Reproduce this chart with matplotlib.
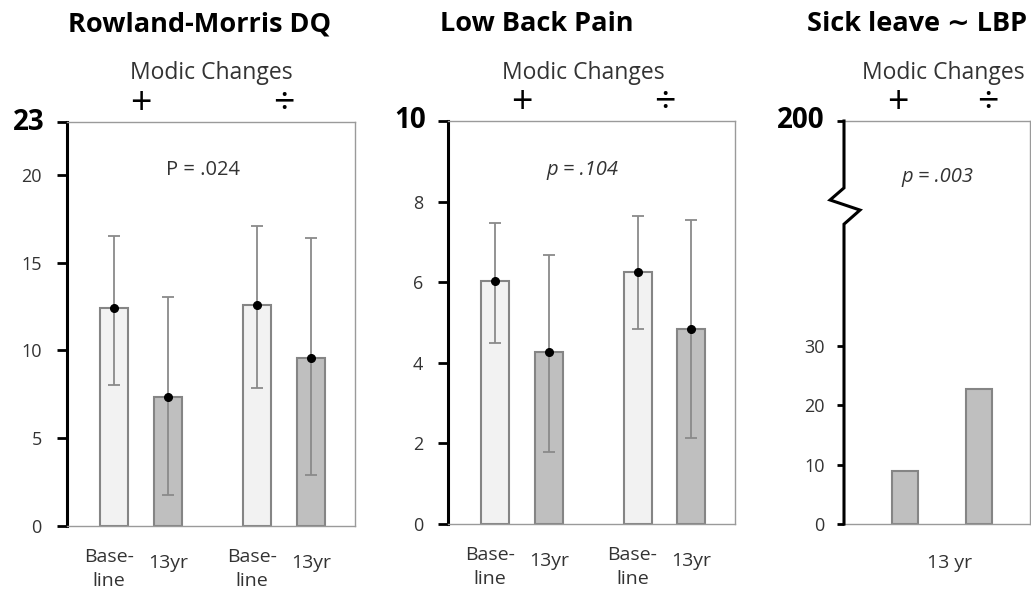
import matplotlib
matplotlib.use('Agg')
import matplotlib.pyplot as plt

plt.rcParams['font.family'] = ['Open Sans', 'DejaVu Sans']

# ---- data ----
# Rowland-Morris DQ (Modic + baseline, Modic + 13yr, Modic - baseline, Modic - 13yr)
rm_mean = [12.4, 7.35, 12.6, 9.55]
rm_low = [8.0, 1.75, 7.85, 2.9]
rm_high = [16.5, 13.05, 17.1, 16.4]

# Low back pain
lbp_mean = [6.03, 4.27, 6.26, 4.83]
lbp_low = [4.49, 1.79, 4.84, 2.13]
lbp_high = [7.47, 6.67, 7.64, 7.54]

# Sick leave ~ LBP at 13 yr (Modic +, Modic -)
sick_mean = [8.9, 22.8]

rm_ticks = [0, 5, 10, 15, 20]
rm_top = 23
lbp_ticks = [0, 2, 4, 6, 8]
lbp_top = 10
sick_ticks = [0, 10, 20, 30]
sick_top_label = '200'

bar_labels = ['Base-\nline', '13yr', 'Base-\nline', '13yr']
titles = ['Rowland-Morris DQ', 'Low Back Pain', 'Sick leave \u223c LBP']
pvals = ['P = .024', 'p = .104', 'p = .003']

W, H = 1031, 596
fig = plt.figure(figsize=(W / 100, H / 100), dpi=100)


def box(l, r, t, b):
    return [l / W, 1 - b / H, (r - l) / W, (b - t) / H]


light = '#f2f2f2'
dark = '#bfbfbf'
edge = '#858585'
errc = '#8a8a8a'
txt = '#333333'


def style_axes(ax, ticklen=7):
    for s in ['top', 'right', 'bottom']:
        ax.spines[s].set_color('#9a9a9a')
        ax.spines[s].set_linewidth(1.0)
    ax.spines['left'].set_color('black')
    ax.spines['left'].set_linewidth(2.2)
    ax.tick_params(axis='y', direction='out', length=ticklen, width=2,
                   color='black', labelsize=13, pad=11, labelcolor=txt)
    ax.tick_params(axis='x', length=0, labelbottom=False)


def top_label(ax, y, text, dx=-16):
    ax.annotate(text, xy=(0, y), xycoords=ax.get_yaxis_transform(),
                xytext=(dx, 0), textcoords='offset points',
                ha='right', va='center', fontsize=20, fontweight='bold')


def sign(ax, x, s):
    ax.text(x, 1.045, s, transform=ax.get_xaxis_transform(), ha='center',
            va='center', fontsize=27, color='black')


def grouped_panel(ax, mean, low, high, ticks, top):
    xs = [0, 1, 2.65, 3.65]
    cols = [light, dark, light, dark]
    ax.bar(xs, mean, width=0.52, color=cols, edgecolor=edge, linewidth=1.5, zorder=2)
    yerr = [[m - lo for m, lo in zip(mean, low)], [hi - m for m, hi in zip(mean, high)]]
    ax.errorbar(xs, mean, yerr=yerr, fmt='none', ecolor=errc, elinewidth=1.3,
                capsize=4.3, capthick=1.3, zorder=3)
    ax.plot(xs, mean, 'o', color='black', markersize=5.5, zorder=4)
    ax.set_xlim(-0.876, 4.46)
    ax.set_ylim(0, top)
    ax.set_yticks(ticks + [top])
    ax.set_yticklabels([str(t) for t in ticks] + [''])
    style_axes(ax)
    top_label(ax, top, str(top))
    tr = ax.get_xaxis_transform()
    for x, lab in zip(xs, bar_labels):
        if '\n' in lab:
            ax.text(x - 0.1, -0.106, lab, transform=tr, ha='center', va='center',
                    fontsize=14, color=txt, linespacing=1.4)
        else:
            ax.text(x, -0.092, lab, transform=tr, ha='center', va='center',
                    fontsize=14, color=txt)
    sign(ax, (xs[0] + xs[1]) / 2, '+')
    sign(ax, (xs[2] + xs[3]) / 2, '\u00f7')


# panel 1
ax1 = fig.add_axes(box(66.7, 355, 122, 526))
grouped_panel(ax1, rm_mean, rm_low, rm_high, rm_ticks, rm_top)
ax1.text(0.473, 0.881, pvals[0], transform=ax1.transAxes, ha='center', va='center',
         fontsize=14.5, color=txt)

# panel 2
ax2 = fig.add_axes(box(448, 735, 121, 524))
grouped_panel(ax2, lbp_mean, lbp_low, lbp_high, lbp_ticks, lbp_top)
ax2.text(0.47, 0.878, pvals[1], transform=ax2.transAxes, ha='center', va='center',
         fontsize=14.5, style='italic', color=txt)

# panel 3
ax3 = fig.add_axes(box(844, 1030, 121, 524))
xs3 = [0, 1]
ax3.bar(xs3, sick_mean, width=0.36, color=dark, edgecolor=edge, linewidth=1.5, zorder=2)
ax3.set_xlim(-0.824, 1.69)
ax3.set_ylim(0, 68)
ax3.set_yticks(sick_ticks + [68])
ax3.set_yticklabels([str(t) for t in sick_ticks] + [''])
style_axes(ax3, ticklen=5)
ax3.tick_params(axis='y', pad=9)
ax3.spines['left'].set_visible(False)
zx = [0, 0, -0.075, 0.086, 0, 0]
zy = [1, 0.834, 0.804, 0.779, 0.744, 0]
ax3.plot(zx, zy, color='black', lw=2.2, transform=ax3.transAxes, clip_on=False,
         solid_joinstyle='miter', zorder=5)
top_label(ax3, 68, sick_top_label, dx=-14)
ax3.text(0.57, -0.097, '13 yr', transform=ax3.transAxes, ha='center', va='center',
         fontsize=14, color=txt)
sign(ax3, xs3[0] - 0.1, '+')
sign(ax3, xs3[1] + 0.12, '\u00f7')
ax3.text(0.5, 0.861, pvals[2], transform=ax3.transAxes, ha='center', va='center',
         fontsize=14.5, style='italic', color=txt)

# titles and headers
for x, t in zip([200, 537, 917], titles):
    fig.text(x / W, 1 - 24 / H, t, ha='center', va='center', fontsize=19.5,
             fontweight='bold')
for x in [211, 583, 943]:
    fig.text(x / W, 1 - 73 / H, 'Modic Changes', ha='center', va='center',
             fontsize=16.5, color=txt)

fig.savefig('out.png', dpi=100)
